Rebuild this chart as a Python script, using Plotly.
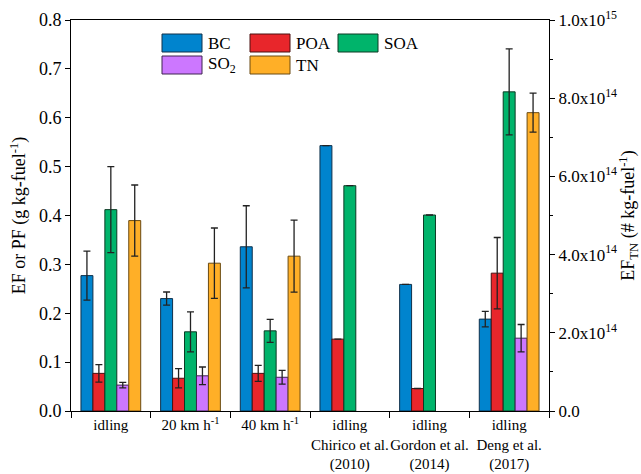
import plotly.graph_objects as go

categories = ["idling", "20 km h<sup>-1</sup>", "40 km h<sup>-1</sup>",
              "idling<br>Chirico et al.<br>(2010)", "idling<br>Gordon et al.<br>(2014)",
              "idling<br>Deng et al.<br>(2017)"]

bc = [0.277, 0.230, 0.336, 0.543, 0.259, 0.188]
bc_err = [0.050, 0.0135, 0.084, None, None, 0.016]
poa = [0.077, 0.067, 0.077, 0.147, 0.046, 0.282]
poa_err = [0.0178, 0.0198, 0.0163, None, None, 0.073]
soa = [0.412, 0.162, 0.164, 0.461, 0.401, 0.653]
soa_err = [0.088, 0.041, 0.0235, None, None, 0.088]
so2 = [0.053, 0.072, 0.069, None, None, 0.149]
so2_err = [0.0055, 0.018, 0.014, None, None, 0.028]
tn = [4.87e14, 3.78e14, 3.96e14, None, None, 7.63e14]
tn_err = [0.91e14, 0.90e14, 0.92e14, None, None, 0.50e14]

left_ticks = [0.0, 0.1, 0.2, 0.3, 0.4, 0.5, 0.6, 0.7, 0.8]
right_ticks = [0, 2e14, 4e14, 6e14, 8e14, 1e15]
right_ticktext = ["0.0", "2.0x10<sup>14</sup>", "4.0x10<sup>14</sup>", "6.0x10<sup>14</sup>",
                  "8.0x10<sup>14</sup>", "1.0x10<sup>15</sup>"]

series = [
    ("BC", bc, bc_err, "#0084CE", "#10304a", "y"),
    ("POA", poa, poa_err, "#E8262B", "#4a1010", "y"),
    ("SOA", soa, soa_err, "#00B46B", "#0c3a24", "y"),
    ("SO<sub>2</sub>", so2, so2_err, "#CC77FF", "#3e2450", "y"),
    ("TN", tn, tn_err, "#FFAF27", "#6a4a12", "y2"),
]

FONT = "Liberation Serif"
bw = 0.15
fig = go.Figure()
for i, (name, vals, errs, col, lcol, ax) in enumerate(series):
    fig.add_trace(go.Bar(
        x=categories, y=vals, name=name, yaxis=ax,
        width=bw, offset=-0.375 + bw * i,
        marker=dict(color=col, line=dict(color=lcol, width=1)),
        error_y=dict(type="data", array=errs, visible=True, color="#222222",
                     thickness=1.3, width=3.5),
        showlegend=False,
    ))

# manual legend (paper coords)
x0p, x1p, y0p, y1p = 71, 549, 20, 411
def px(x):
    return (x - x0p) / (x1p - x0p)
def py(y):
    return (y1p - y) / (y1p - y0p)

legend_pos = [(162, 34), (250, 34), (338, 34), (162, 56), (250, 56)]
shapes = []
annotations = []
for (name, vals, errs, col, lcol, ax), (lx, ly) in zip(series, legend_pos):
    shapes.append(dict(type="rect", xref="paper", yref="paper",
                       x0=px(lx), x1=px(lx + 40), y0=py(ly), y1=py(ly + 18),
                       fillcolor=col, line=dict(color=lcol, width=1)))
    annotations.append(dict(xref="paper", yref="paper", x=px(lx + 44), y=py(ly + 9),
                            text=name, showarrow=False, xanchor="left", yanchor="middle",
                            font=dict(family=FONT, size=17, color="black")))

fig.update_layout(
    width=641, height=474,
    margin=dict(l=71, r=92, t=20, b=63),
    paper_bgcolor="white", plot_bgcolor="white",
    barmode="overlay",
    font=dict(family=FONT, size=15, color="black"),
    shapes=shapes, annotations=annotations,
    xaxis=dict(type="category", tickson="boundaries", ticks="outside", ticklen=6,
               tickcolor="black", showline=True, linecolor="black", linewidth=1,
               mirror=True, showgrid=False, tickfont=dict(family=FONT, size=15),
               tickangle=0, automargin=False, range=[-0.5, 5.5]),
    yaxis=dict(range=[0, 0.8], tickvals=left_ticks, tickformat=".1f",
               ticks="outside", ticklen=5, tickcolor="black", automargin=False,
               showline=True, linecolor="black", linewidth=1, showgrid=False,
               zeroline=False, tickfont=dict(family=FONT, size=18),
               title=dict(text="EF or PF (g kg-fuel<sup>-1</sup>)",
                          font=dict(family=FONT, size=18), standoff=8)),
    yaxis2=dict(overlaying="y", side="right", range=[0, 1e15],
                tickvals=right_ticks, ticktext=right_ticktext,
                ticks="outside", ticklen=5, tickcolor="black", automargin=False,
                minor=dict(ticks="outside", ticklen=3, dtick=1e14, tickcolor="black"),
                showline=True, linecolor="black", linewidth=1, showgrid=False,
                zeroline=False, tickfont=dict(family=FONT, size=17),
                title=dict(text="EF<sub>TN</sub> (# kg-fuel<sup>-1</sup>)",
                           font=dict(family=FONT, size=18), standoff=2)),
)

fig.write_html("out.html")
